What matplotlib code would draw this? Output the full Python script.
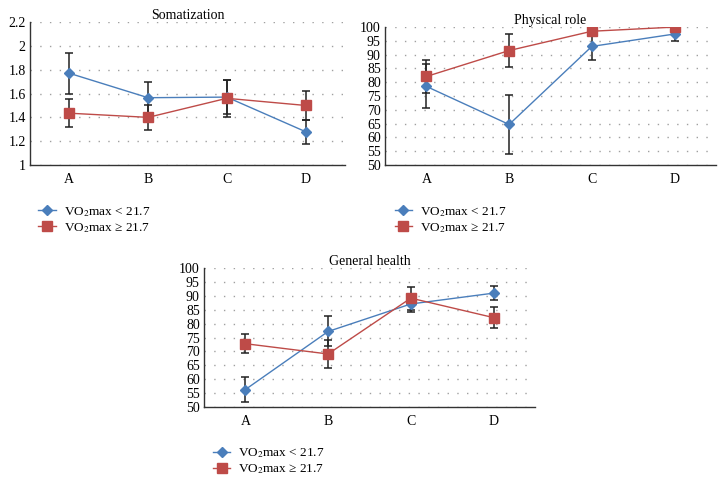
import matplotlib.pyplot as plt
from matplotlib.lines import Line2D

plt.rcParams['font.family'] = ['Liberation Serif', 'DejaVu Serif']
plt.rcParams['mathtext.fontset'] = 'stix'

categories = ['A', 'B', 'C', 'D']

som_low = [1.77, 1.565, 1.57, 1.28]
som_low_err = [0.17, 0.135, 0.145, 0.10]
som_high = [1.435, 1.40, 1.56, 1.50]
som_high_err = [0.115, 0.105, 0.155, 0.12]

phys_low = [78.5, 64.7, 93.0, 97.5]
phys_low_err = [8.0, 10.6, 4.8, 2.5]
phys_high = [82.1, 91.5, 98.5, 100.0]
phys_high_err = [5.9, 6.0, 1.5, 0.0]

gen_low = [56.3, 77.2, 87.1, 91.0]
gen_low_err = [4.5, 5.4, 3.0, 2.5]
gen_high = [72.8, 69.1, 89.2, 82.2]
gen_high_err = [3.5, 5.2, 4.1, 3.7]

blue = '#4A7EBB'
red = '#BE4B48'

fig = plt.figure(figsize=(7.24, 4.84), dpi=100)

panels = [
    ('Somatization', [0.0414, 0.659, 0.435, 0.2955], (1, 2.2), [1, 1.2, 1.4, 1.6, 1.8, 2, 2.2],
     ['1', '1.2', '1.4', '1.6', '1.8', '2', '2.2'],
     som_low, som_low_err, som_high, som_high_err, (0.044, 0.59)),
    ('Physical role', [0.5318, 0.659, 0.457, 0.285], (50, 100), list(range(50, 101, 5)), None,
     phys_low, phys_low_err, phys_high, phys_high_err, (0.536, 0.59)),
    ('General health', [0.2818, 0.159, 0.457, 0.287], (50, 100), list(range(50, 101, 5)), None,
     gen_low, gen_low_err, gen_high, gen_high_err, (0.285, 0.091)),
]

x = list(range(len(categories)))

for title, rect, ylim, yticks, ylabels, lo, lo_e, hi, hi_e, leg_pos in panels:
    ax = fig.add_axes(rect)
    ax.errorbar(x, lo, yerr=lo_e, fmt='none', ecolor='#222222', elinewidth=1.1,
                capsize=3, capthick=1.1, zorder=2)
    ax.errorbar(x, hi, yerr=hi_e, fmt='none', ecolor='#222222', elinewidth=1.1,
                capsize=3, capthick=1.1, zorder=2)
    ax.plot(x, lo, color=blue, lw=1.0, marker='D', ms=5, mec=blue, mfc=blue, zorder=3)
    ax.plot(x, hi, color=red, lw=1.0, marker='s', ms=7, mec=red, mfc=red, zorder=3)
    ax.set_xlim(-0.5, 3.5)
    ax.set_ylim(*ylim)
    ax.set_yticks(yticks)
    if ylabels:
        ax.set_yticklabels(ylabels)
    ax.set_xticks(x)
    ax.set_xticklabels(categories)
    ax.yaxis.grid(True, color='#a0a0a0', linestyle=(0, (1, 6)), linewidth=1)
    ax.set_axisbelow(True)
    for s in ['top', 'right']:
        ax.spines[s].set_visible(False)
    for s in ['left', 'bottom']:
        ax.spines[s].set_color('#333333')
        ax.spines[s].set_linewidth(1)
    ax.tick_params(length=0, labelsize=10, pad=3)
    ax.tick_params(axis='x', pad=6)
    ax.set_title(title, fontsize=10, pad=2)

    handles = [
        Line2D([], [], color=blue, lw=1.0, marker='D', ms=5),
        Line2D([], [], color=red, lw=1.0, marker='s', ms=7),
    ]
    fig.legend(handles, ['VO$_2$max < 21.7', 'VO$_2$max \u2265 21.7'],
               loc='upper left', bbox_to_anchor=leg_pos, frameon=False,
               fontsize=9.5, handlelength=1.3, labelspacing=0.15,
               borderpad=0, handletextpad=0.6)

plt.savefig('out.png', dpi=100)
plt.close()
